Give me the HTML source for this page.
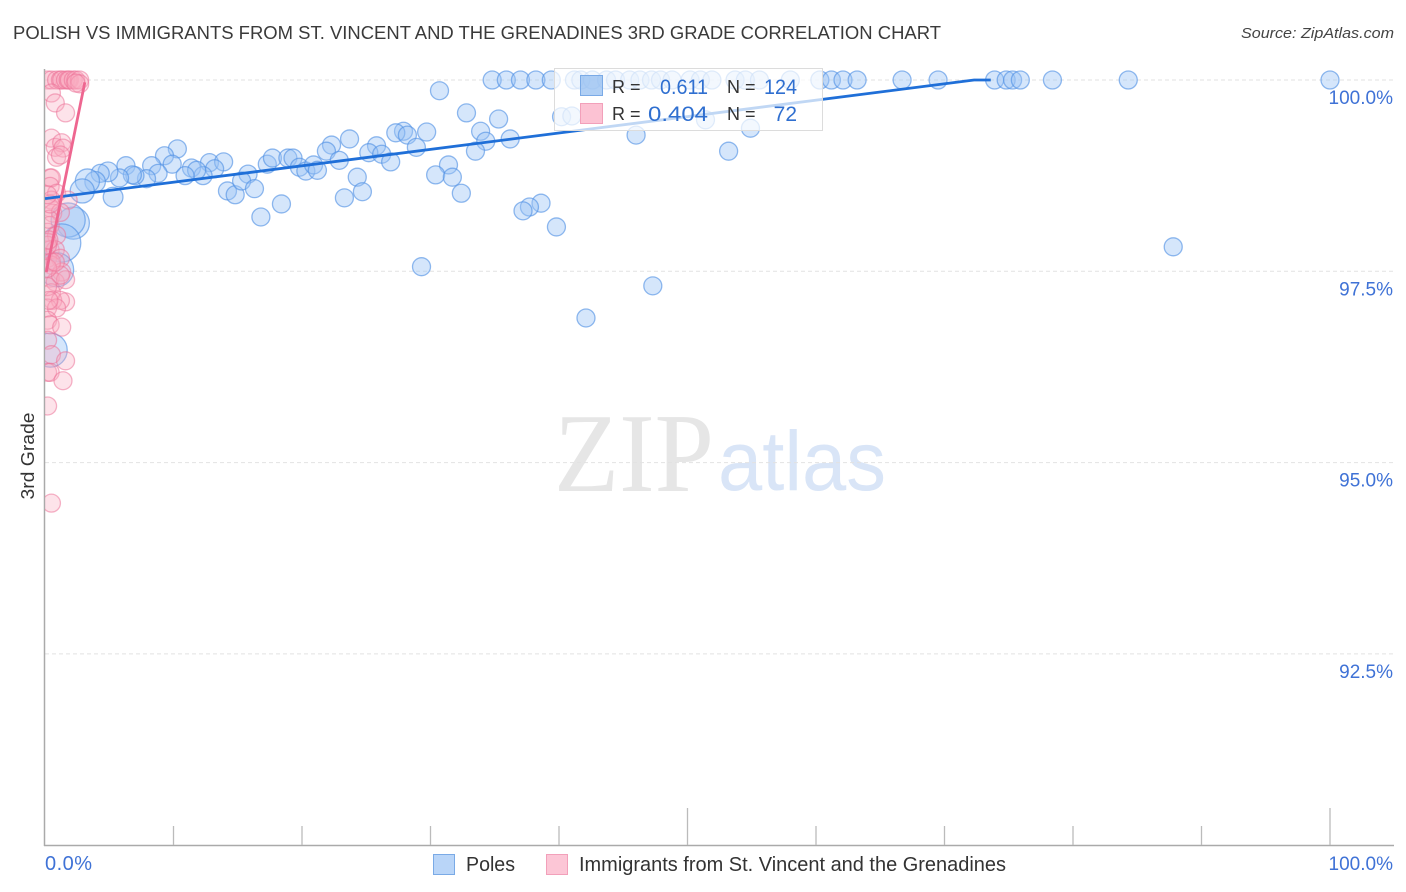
<!DOCTYPE html>
<html lang="en">
<head>
<meta charset="utf-8">
<title>Polish vs Immigrants from St. Vincent and the Grenadines 3rd Grade Correlation Chart</title>
<style>
html,body{margin:0;padding:0;background:#fff;width:1406px;height:892px;overflow:hidden}
svg{display:block}
text{font-family:"Liberation Sans",sans-serif}
</style>
</head>
<body>
<svg id="chart" width="1406" height="892" viewBox="0 0 1406 892" xmlns="http://www.w3.org/2000/svg">
  <defs>
    <clipPath id="plot-clip"><rect x="45" y="60" width="1350" height="785"/></clipPath>
    <filter id="soft" x="-5%" y="-5%" width="110%" height="110%"><feGaussianBlur stdDeviation="0.3"/></filter>
  </defs>
  <text x="13" y="39" font-size="18" fill="#3a3a3a" textLength="928" lengthAdjust="spacingAndGlyphs">POLISH VS IMMIGRANTS FROM ST. VINCENT AND THE GRENADINES 3RD GRADE CORRELATION CHART</text>
  <text x="1394" y="38" font-size="15" font-style="italic" fill="#444" text-anchor="end" textLength="153" lengthAdjust="spacingAndGlyphs">Source: ZipAtlas.com</text>
  <text x="554" y="491" font-size="112" fill="#e6e6e6" textLength="160" lengthAdjust="spacingAndGlyphs" style="font-family:'Liberation Serif',serif">ZIP</text>
  <text x="718" y="490" font-size="84" fill="#d9e5f7" textLength="168" lengthAdjust="spacingAndGlyphs">atlas</text>
  <g id="grid"></g>
  <g id="axes"></g>
  <g clip-path="url(#plot-clip)">
    <g id="blue-points" filter="url(#soft)"></g>
    <g id="pink-points" filter="url(#soft)"></g>
  </g>
  <g id="trends"></g>
  <text transform="translate(34,456) rotate(-90)" font-size="18" fill="#333" text-anchor="middle" textLength="87" lengthAdjust="spacingAndGlyphs">3rd Grade</text>

  <g>
    <rect x="554.5" y="68.5" width="268" height="62" fill="#fff" fill-opacity="0.72" stroke="#dcdcdc"/>
    <rect x="580.5" y="75.5" width="22" height="20" fill="#8fbbf0" fill-opacity="0.7" stroke="#7aaae6"/>
    <rect x="580.5" y="103.5" width="22" height="20" fill="#fcc2d3" stroke="#f2a0ba"/>
    <text x="612" y="93" font-size="18" fill="#333">R =</text>
    <text x="708" y="94" font-size="21" fill="#2f6fd0" text-anchor="end" textLength="48" lengthAdjust="spacingAndGlyphs">0.611</text>
    <text x="727" y="93" font-size="18" fill="#333">N =</text>
    <text x="797" y="94" font-size="21" fill="#2f6fd0" text-anchor="end" textLength="33" lengthAdjust="spacingAndGlyphs">124</text>
    <text x="612" y="120" font-size="18" fill="#333">R =</text>
    <text x="708" y="121" font-size="21" fill="#2f6fd0" text-anchor="end" textLength="60" lengthAdjust="spacingAndGlyphs">0.404</text>
    <text x="727" y="120" font-size="18" fill="#333">N =</text>
    <text x="797" y="121" font-size="21" fill="#2f6fd0" text-anchor="end">72</text>
  </g>

  <g>
    <rect x="433.5" y="854.5" width="21" height="20" fill="#b9d5f8" stroke="#7aaae6"/>
    <text x="466" y="871" font-size="20" fill="#333" textLength="49" lengthAdjust="spacingAndGlyphs">Poles</text>
    <rect x="546.5" y="854.5" width="21" height="20" fill="#fcc6d6" stroke="#f2a0ba"/>
    <text x="579" y="871" font-size="20" fill="#333" textLength="427" lengthAdjust="spacingAndGlyphs">Immigrants from St. Vincent and the Grenadines</text>
  </g>
</svg>
<script>
const xTickValues = [10, 20, 30, 40, 50, 60, 70, 80, 90, 100];
const xMajorTicks = [50, 100];
const xEndLabels = ["0.0%", "100.0%"];
const yTickValues = [100, 97.5, 95, 92.5];
const yTickLabels = ["100.0%", "97.5%", "95.0%", "92.5%"];

const bluePctX = [34.8,35.9,37.0,38.2,39.4,41.2,41.7,42.6,43.7,44.4,45.5,46.3,47.2,47.9,48.8,50.2,51.0,51.9,53.7,54.5,55.6,58.0,60.3,61.2,62.1,63.2,66.7,69.5,73.9,74.8,75.3,75.9,78.4,84.3,100,
30.7,32.8,35.3,33.9,29.7,27.9,27.3,28.2,23.7,22.3,21.9,10.3,34.3,36.2,33.5,28.9,25.8,25.2,26.2,26.9,22.9,31.4,30.4,31.7,32.4,38.6,37.7,37.2,39.8,29.3,42.1,47.3,87.8,53.2,54.9,46.0,51.4,40.2,41.0,
9.3,6.3,8.3,9.9,11.4,12.8,13.9,13.2,12.3,11.8,10.9,8.8,7.9,7.0,6.8,5.8,4.9,4.3,3.9,3.3,2.9,5.3,14.2,14.8,15.8,15.3,16.3,16.8,18.4,17.3,17.7,18.9,19.3,19.8,20.3,20.9,21.2,23.3,24.3,24.7,
2.2,1.8,1.3,0.9,0.4];
const bluePctY = [100,100,100,100,100,100,100,100,100,100,100,100,100,100,100,100,100,100,100,100,100,100,100,100,100,100,100,100,100,100,100,100,100,100,100,
99.86,99.57,99.49,99.33,99.32,99.33,99.31,99.28,99.23,99.15,99.07,99.10,99.20,99.23,99.07,99.12,99.14,99.05,99.03,98.93,98.95,98.89,98.76,98.73,98.52,98.39,98.34,98.29,98.08,97.56,96.89,97.31,97.82,99.07,99.37,99.28,99.48,99.52,99.53,
99.01,98.88,98.88,98.90,98.85,98.92,98.93,98.84,98.75,98.82,98.75,98.78,98.71,98.75,98.76,98.72,98.80,98.78,98.67,98.68,98.55,98.47,98.55,98.50,98.77,98.68,98.58,98.21,98.38,98.90,98.98,98.98,98.98,98.86,98.81,98.89,98.82,98.46,98.73,98.54,
98.13,98.17,97.87,97.52,96.47];
const blueWeight = [1,1,1,1,1,1,1,1,1,1,1,1,1,1,1,1,1,1,1,1,1,1,1,1,1,1,1,1,1,1,1,1,1,1,1,
1,1,1,1,1,1,1,1,1,1,1,1,1,1,1,1,1,1,1,1,1,1,1,1,1,1,1,1,1,1,1,1,1,1,1,1,1,1,1,
1,1,1,1,1,1,1,1,1,1,1,1,1,1,1,1,1.2,1,1.3,1.8,1.8,1.2,1,1,1,1,1,1,1,1,1,1,1,1,1,1,1,1,1,1,
3.2,3.6,4.5,3.6,3.6];

const pinkPctX = [0.2,0.5,0.9,1.2,1.3,1.6,1.8,1.9,2.2,2.4,2.7,2.7,2.4,
0.5,0.8,1.6,0.5,0.8,1.3,1.4,0.9,1.2,
0.4,0.5,0.4,0.9,0.5,1.8,0.4,0.6,1.2,0.4,0.2,0.9,0.2,0.3,0.4,0.8,0.2,1.2,0.5,1.3,0.4,0.8,1.6,1.2,
0.5,1.6,0.6,1.2,0.2,0.9,0.2,0.4,1.3,0.2,0.5,1.6,0.2,0.4,1.4,0.2,0.5,
0.2,0.3,0.5,0.2,0.8,0.4,0.2,0.2,0.3];
const pinkPctY = [100,100,100,100,100,100,100,100,100,100,100,99.95,99.96,
99.83,99.70,99.57,99.24,99.12,99.18,99.11,98.99,99.02,
98.72,98.72,98.61,98.52,98.43,98.43,98.33,98.26,98.27,98.10,98.01,97.97,97.88,98.18,97.78,97.78,97.67,97.67,97.58,97.49,97.41,97.36,97.39,97.45,
97.22,97.10,97.12,97.12,97.02,97.02,96.86,96.80,96.77,96.60,96.41,96.33,96.18,96.18,96.07,95.74,94.47,
97.84,97.91,97.62,97.54,97.62,98.38,98.50,97.30,97.12];

const blueTrendX = [0, 72.3, 73.6];
const blueTrendY = [98.45, 100, 100];
const pinkTrendX = [0.1, 3.1];
const pinkTrendY = [97.49, 99.97];

const SVG_NS = "http://www.w3.org/2000/svg";
function xScale(v) { return 45 + v * 12.85; }
function yScale(v) { return 80 + (100 - v) * 76.52; }
function rScale(w) { return 9 * Math.sqrt(w); }
function make(tag, attrs, parent) {
  const el = document.createElementNS(SVG_NS, tag);
  Object.keys(attrs).forEach(function (k) { el.setAttribute(k, attrs[k]); });
  parent.appendChild(el);
  return el;
}

const grid = document.getElementById("grid");
const axes = document.getElementById("axes");

yTickValues.forEach(function (v, i) {
  const line = make("line", { x1: 45, x2: 1393, y1: yScale(v), y2: yScale(v), stroke: "#e2e2e2", "stroke-width": 1, "stroke-dasharray": "4 3" }, grid);
  
  
  const label = make("text", { x: 1393, y: yScale(v) + 24, "text-anchor": "end", "font-size": 19, fill: "#3f72d6" }, axes);
  label.textContent = yTickLabels[i];
  
  
});

const yAxisLine = make("line", { x1: 44.5, x2: 44.5, y1: 69, y2: 846, stroke: "#aaaaaa", "stroke-width": 1.5 }, axes);


const xAxisLine = make("line", { x1: 44, x2: 1394, y1: 845.5, y2: 845.5, stroke: "#aaaaaa", "stroke-width": 1.5 }, axes);



xTickValues.forEach(function (v) {
  const major = xMajorTicks.indexOf(v) >= 0;
  const tick = make("line", { x1: xScale(v), x2: xScale(v), y1: major ? 808 : 826, y2: 845, stroke: "#bbbbbb", "stroke-width": 1.3 }, axes);
  
  
});

const xLabelLeft = make("text", { x: 45, y: 870, "font-size": 20, fill: "#3f72d6" }, axes);
xLabelLeft.textContent = xEndLabels[0];
xLabelLeft.setAttribute('textLength', '47');


const xLabelRight = make("text", { x: 1393, y: 870, "font-size": 19, "text-anchor": "end", fill: "#3f72d6" }, axes);
xLabelRight.textContent = xEndLabels[1];



const blueGroup = document.getElementById("blue-points");
bluePctX.forEach(function (v, i) {
  const c = make("circle", { cx: xScale(v), cy: yScale(bluePctY[i]), r: rScale(blueWeight[i]), fill: "#9cc3f5", "fill-opacity": 0.42, stroke: "#4f90e4", "stroke-opacity": 0.62, "stroke-width": 1.3 }, blueGroup);
  
  
});

const pinkGroup = document.getElementById("pink-points");
pinkPctX.forEach(function (v, i) {
  const c = make("circle", { cx: xScale(v), cy: yScale(pinkPctY[i]), r: rScale(1), fill: "#f9a9c0", "fill-opacity": 0.33, stroke: "#ec6f95", "stroke-opacity": 0.52, "stroke-width": 1.3 }, pinkGroup);
  
  
});

const trends = document.getElementById("trends");
const bluePath = make("polyline", {
  points: blueTrendX.map(function (v, i) { return xScale(v) + "," + yScale(blueTrendY[i]); }).join(" "),
  fill: "none", stroke: "#1f6fd8", "stroke-width": 2.8
}, trends);


const pinkPath = make("polyline", {
  points: pinkTrendX.map(function (v, i) { return xScale(v) + "," + yScale(pinkTrendY[i]); }).join(" "),
  fill: "none", stroke: "#ee6690", "stroke-width": 2.8
}, trends);


</script>
</body>
</html>
